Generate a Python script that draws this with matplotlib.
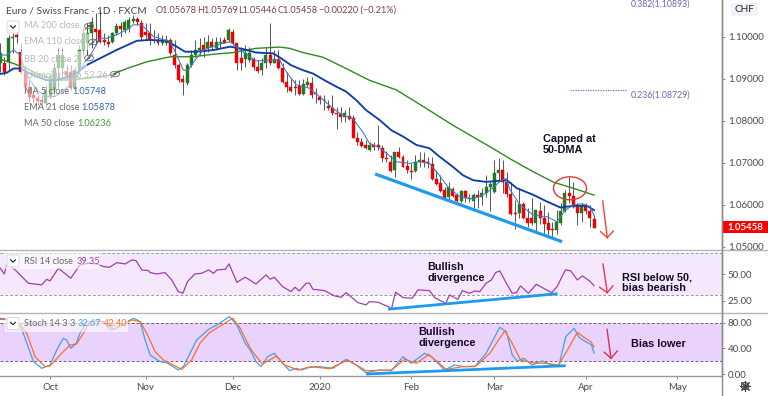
import numpy as np
import matplotlib
matplotlib.use('Agg')
import matplotlib.pyplot as plt
from matplotlib.patches import Ellipse, Rectangle, FancyBboxPatch

plt.rcParams['font.family'] = ['Lato', 'DejaVu Sans']

# daily candles, index 0 = 1 Oct 2019
first_bar = -12
opens = [1.0937,1.0937,1.0941,1.0997,1.1005,1.0965,1.0917,1.0882,1.0862,1.0854,1.0850,1.0842,
         1.0858,1.0874,1.0925,1.0925,1.0917,1.0917,1.0878,1.0921,1.0969,1.0985,1.1009,1.1019,1.1016,1.0994,1.0989,1.0987,1.1009,1.1025,1.1017,1.1019,1.1038,1.1044,1.1033,1.1013,
         1.1009,1.0994,1.0994,1.0985,1.0986,1.0993,1.0957,1.0933,1.0899,1.0890,1.0933,1.0957,1.0969,1.0981,1.0973,1.0989,1.0973,1.0985,1.0993,1.0993,1.1013,1.0985,1.0949,1.0947,1.0945,1.0947,
         1.0929,1.0921,1.0937,1.0957,1.0939,1.0947,1.0925,1.0893,1.0882,1.0880,1.0884,1.0864,1.0886,1.0890,1.0867,1.0858,1.0851,1.0836,1.0832,1.0818,1.0817,1.0809,1.0813,1.0806,1.0760,1.0749,
         1.0743,1.0731,1.0743,1.0743,1.0736,1.0713,1.0702,1.0683,1.0725,1.0715,1.0693,1.0682,1.0682,1.0703,1.0707,1.0703,1.0698,1.0663,1.0653,1.0636,1.0618,1.0637,1.0624,1.0610,1.0634,1.0616,
         1.0610,1.0624,1.0620,1.0628,1.0642,1.0632,1.0677,1.0683,1.0655,1.0626,1.0580,1.0582,1.0603,1.0570,1.0568,1.0556,1.0586,1.0568,1.0558,1.0542,1.0541,1.0556,1.0586,1.0628,1.0622,1.0600,
         1.0582,1.0598,1.0586,1.05678]
highs = [1.0985,1.0953,1.1005,1.1009,1.1009,1.0985,1.0933,1.0897,1.0874,1.0862,1.0862,1.0886,
         1.0909,1.0937,1.0977,1.0977,1.0933,1.0933,1.0929,1.0981,1.1021,1.1033,1.1048,1.1056,1.1064,1.1009,1.1005,1.1013,1.1033,1.1036,1.1040,1.1048,1.1052,1.1048,1.1040,1.1033,
         1.1033,1.1017,1.1009,1.1005,1.1005,1.0997,1.0993,1.0937,1.0909,1.0937,1.0969,1.0993,1.0997,1.1001,1.1005,1.0997,1.1001,1.1001,1.1001,1.1021,1.1019,1.0985,1.0977,1.0981,1.0977,1.0953,
         1.0945,1.0949,1.0977,1.1034,1.0969,1.0969,1.0937,1.0917,1.0901,1.0897,1.0897,1.0901,1.0905,1.0904,1.0878,1.0862,1.0862,1.0850,1.0862,1.0834,1.0834,1.0826,1.0834,1.0814,1.0774,1.0759,
         1.0755,1.0751,1.0751,1.0790,1.0743,1.0728,1.0719,1.0727,1.0739,1.0719,1.0707,1.0699,1.0719,1.0727,1.0727,1.0715,1.0715,1.0683,1.0671,1.0643,1.0655,1.0643,1.0628,1.0636,1.0636,1.0625,
         1.0628,1.0636,1.0640,1.0671,1.0655,1.0707,1.0711,1.0707,1.0679,1.0655,1.0612,1.0640,1.0608,1.0592,1.0616,1.0588,1.0608,1.0600,1.0584,1.0560,1.0588,1.0604,1.0636,1.0666,1.0655,1.0604,
         1.0604,1.0604,1.0600,1.05769]
lows = [1.0917,1.0909,1.0921,1.0961,1.0985,1.0913,1.0870,1.0846,1.0842,1.0838,1.0830,1.0834,
        1.0854,1.0858,1.0878,1.0905,1.0897,1.0874,1.0874,1.0917,1.0957,1.0957,1.0973,1.0985,1.0985,1.0981,1.0977,1.0985,1.1005,1.1001,1.1009,1.1013,1.1033,1.1029,1.0993,1.0993,
        1.0981,1.0985,1.0981,1.0981,1.0981,1.0957,1.0925,1.0893,1.0862,1.0886,1.0929,1.0953,1.0957,1.0953,1.0965,1.0969,1.0969,1.0973,1.0985,1.0989,1.0981,1.0921,1.0921,1.0929,1.0941,1.0921,
        1.0915,1.0909,1.0925,1.0933,1.0937,1.0923,1.0891,1.0870,1.0870,1.0862,1.0862,1.0862,1.0882,1.0854,1.0842,1.0840,1.0826,1.0826,1.0814,1.0782,1.0798,1.0798,1.0802,1.0759,1.0743,1.0739,
        1.0733,1.0729,1.0731,1.0731,1.0703,1.0703,1.0679,1.0667,1.0711,1.0691,1.0675,1.0663,1.0679,1.0691,1.0691,1.0687,1.0659,1.0647,1.0632,1.0616,1.0612,1.0620,1.0604,1.0606,1.0608,1.0606,
        1.0592,1.0594,1.0600,1.0620,1.0586,1.0628,1.0655,1.0628,1.0620,1.0576,1.0544,1.0568,1.0566,1.0548,1.0552,1.0536,1.0554,1.0532,1.0528,1.0524,1.0530,1.0552,1.0584,1.0604,1.0592,1.0552,
        1.0560,1.0578,1.0548,1.05446]
closes = [1.0961,1.0917,1.0997,1.1001,1.0999,1.0917,1.0882,1.0858,1.0854,1.0847,1.0845,1.0874,
          1.0897,1.0925,1.0957,1.0957,1.0909,1.0878,1.0921,1.0969,1.1009,1.1009,1.1036,1.1013,1.0989,1.0989,1.0984,1.1009,1.1025,1.1019,1.1036,1.1040,1.1044,1.1036,1.1001,1.1005,
          1.0993,1.0993,1.0985,1.0994,1.0994,1.0961,1.0933,1.0897,1.0893,1.0933,1.0957,1.0969,1.0973,1.0969,1.0989,1.0977,1.0989,1.0989,1.0986,1.1017,1.0985,1.0937,1.0937,1.0961,1.0961,1.0929,
          1.0919,1.0937,1.0957,1.0937,1.0947,1.0925,1.0893,1.0880,1.0872,1.0879,1.0864,1.0887,1.0892,1.0862,1.0864,1.0851,1.0849,1.0830,1.0818,1.0816,1.0809,1.0820,1.0805,1.0760,1.0749,1.0741,
          1.0735,1.0743,1.0737,1.0739,1.0711,1.0710,1.0682,1.0725,1.0715,1.0691,1.0683,1.0679,1.0703,1.0707,1.0703,1.0699,1.0663,1.0651,1.0634,1.0617,1.0642,1.0622,1.0610,1.0634,1.0616,1.0614,
          1.0624,1.0620,1.0628,1.0642,1.0649,1.0677,1.0683,1.0655,1.0626,1.0578,1.0579,1.0603,1.0568,1.0556,1.0556,1.0588,1.0568,1.0554,1.0541,1.0540,1.0560,1.0586,1.0628,1.0622,1.0596,1.0580,
          1.0598,1.0586,1.0568,1.05458]

ema21_x = [-12,-10.4,-8.8,-7.2,-4,-0.8,1.2,4,6.8,8.8,12,16,20.9,24.1,28.1,30.5,32.5,35.3,39.4,43.4,46.6,49.6,53.7,55.7,58,60.9,63.3,66.1,68.9,71.3,73.7,76.1,79.4,82.2,85,88.2,91.4,93.8,97,99.4,101.9,105,110,112.4,116.4,119.7,122.9,126.1,129.3,131]
ema21_y = [1.0912,1.0915,1.0925,1.0925,1.0909,1.0897,1.0897,1.0904,1.0917,1.0933,1.0949,1.0969,1.0991,1.0993,1.0991,1.0977,1.0965,1.0965,1.0969,1.0977,1.0971,1.0963,1.0961,1.0949,1.0933,1.0921,1.0913,1.0897,1.0882,1.0870,1.0850,1.0826,1.0802,1.0778,1.0763,1.0743,1.0735,1.0715,1.0691,1.0671,1.0659,1.0655,1.0659,1.0640,1.0624,1.0608,1.0594,1.0598,1.0598,1.05878]
ma50_x = [-12,-8.8,-5.6,-2.4,1.6,6.4,14.5,18.5,23.3,29,34.5,39.4,44.2,49.6,55.3,57.7,60.9,65.7,71.3,76.9,83.4,90.6,97,105.9,111.3,116.4,121.3,125.3,131]
ma50_y = [1.0947,1.0937,1.0925,1.0909,1.0897,1.0899,1.0909,1.0925,1.0941,1.0953,1.0953,1.0959,1.0963,1.0973,1.0976,1.0973,1.0963,1.0952,1.0925,1.0897,1.0874,1.0830,1.0790,1.0739,1.0707,1.0679,1.0654,1.0642,1.06236]
ma5_x = [-12,-10.4,-8.8,-7.2,-5.6,-3.2,-0.8,1.2,4,6,8.4,10,12,13.7,16,18.5,20,22.1,24.9,28.9,30.5,32.1,33.3,34.9,36.9,40.2,43.4,45.8,49.6,52.8,55.3,56.9,59.3,62.5,64.9,68.1,70.5,72.9,74.1,75.3,76.9,79.4,81,83.4,86.6,89,91.4,93.4,95.8,98.6,101.9,105,107.1,108.7,109.8,110.8,113.2,116.4,119.7,122.1,124.1,126.1,128.1,130.1,131]
ma5_y = [1.0957,1.0957,1.0969,1.0957,1.0909,1.0874,1.0858,1.0858,1.0878,1.0897,1.0941,1.0961,1.0997,1.0997,1.1005,1.1017,1.1029,1.1029,1.1001,1.0989,1.0957,1.0921,1.0921,1.0945,1.0969,1.0981,1.0989,1.0969,1.0943,1.0945,1.0945,1.0917,1.0886,1.0878,1.0858,1.0830,1.0814,1.0806,1.0790,1.0774,1.0747,1.0736,1.0723,1.0703,1.0699,1.0703,1.0699,1.0675,1.0643,1.0620,1.0614,1.0628,1.0645,1.0659,1.0663,1.0636,1.0600,1.0576,1.0572,1.0560,1.0588,1.0600,1.0603,1.0596,1.05748]

rsi_x = [-12,-11,-10.4,-8.4,-5.2,-2,-0.8,0,2,5,7.2,9.2,11.2,12.9,14.3,16.1,18.1,19.7,20.7,22.1,23.7,24.1,25.7,27.7,29.3,30.9,32,33.1,34.9,36.5,38.2,39.4,40.2,42.2,43.1,45,47,49.6,
         52,53,54,56,58,59,60,61.7,62.5,63.3,66.1,68.5,70.1,71.3,74.1,76.1,76.9,79,81.4,82.2,83.2,85,87.2,88.6,91.4,92.6,95.3,96.2,98.2,99.3,101,102.3,103.5,105,106.3,107.3,108.3,109.9,111.3,
         112.3,113.3,115.2,117.1,119.3,120.8,122.1,124.1,125.4,127,128.2,129.8,131]
rsi_y = [55.7,50.3,60.4,54.1,41.5,39.9,45.3,43.7,55.7,46.2,58.8,60.4,59.8,57.3,56.6,61,59.8,63.6,62.9,54.1,53.5,51.6,50.3,51.6,44.6,33.6,32,43.1,50.3,50.9,54.1,50.9,54.1,54.7,59.8,42.4,47.2,40.8,
         49.4,45.3,47.2,38.3,33.6,37.7,34.2,41.5,41.5,35.8,34.5,29.5,28.2,32.6,23.2,21,24.1,23.5,19.4,16.9,33,27.9,27.3,35.2,34.5,27.9,22.5,30.4,26.3,34.5,32,34.2,33.6,41.5,44.6,51.6,53.2,41.5,32,
         32.6,39,32,40.5,35.8,32.6,38.3,54.1,53.2,44.6,48.4,44,39.35]

stoch_k_x = [-12,-9.6,-7.2,-6,-4,-2,0,1.6,3.2,4,5,6.3,7.2,8.8,11.2,12.9,14.5,16.1,18.5,20.2,21.7,22.9,24.1,26.5,28.1,30.9,32.1,35.3,38.2,40.2,43.2,45,47,48.2,49.6,
             50.8,52.4,54,55.7,57.7,59.3,60.5,62.5,64.9,68.1,71.3,73.7,76.1,79.4,82.2,85,87,90.2,91.8,95,97.4,99.8,102.3,105,108.3,109.9,111.3,
             112.5,114.1,116.1,118.5,120.9,122.5,124.2,126.2,127.4,128.6,130.4,131]
stoch_k_y = [87,85.4,76.6,55.7,19.3,8.9,14.1,37.5,55.7,53.1,40.1,47.9,63.5,81.8,82.8,81.8,68.8,71.4,81.8,87,81.8,53.1,29.7,19.3,17.7,6.3,11.5,53.1,69.8,76.6,89.6,76.6,47.9,37.5,19.3,
             11.5,27.1,32.3,19.3,5.2,8.9,6.3,10.4,11.5,8.9,22.9,14.1,2.1,6.3,5.2,27.1,16.7,32.3,27.1,6.3,14.1,11.5,11.5,32.3,72.9,66.1,29.7,
             20.3,24.5,14.1,20.3,14.1,12.5,58.3,71.4,57.3,52.1,45.3,32.67]
stoch_d_x = [-12,-9.6,-7.2,-5.6,-3.6,-1.2,0,2.8,4.8,6.4,8,9.6,12,13.7,15.3,17.3,19.7,21.7,23.3,25.3,27.3,29.7,31.7,34.1,36.1,38.2,41,44,45.8,48.2,49.6,
             51.2,54.5,56.5,59.7,62.9,67.3,71.7,76.1,82.2,85.4,88.2,91.2,95.4,99.4,102.6,105.9,109.5,111.3,
             113.3,116.1,119.3,122.5,124.6,127,128.6,130.2,131]
stoch_d_y = [85.4,84.4,76.6,63.5,27.1,11.5,12.5,32.3,45.3,46.9,63.5,81.8,82.8,76.6,69.8,76.6,84.4,81.8,63.5,34.9,21.9,14.1,7.3,21.9,47.9,63.5,75,87,71.4,40.1,28.1,
             15.6,28.1,14.1,6.3,11.5,8.3,21.9,5.2,6.3,22.9,16.7,30.7,7.3,11.5,12.5,32.3,67.7,47.9,
             21.9,17.7,16.7,14.1,37.5,65.1,57.3,50.5,42.4]

month_ticks = [0, 23, 44, 65, 87, 107, 129, 151]
month_labels = ['Oct', 'Nov', 'Dec', '2020', 'Feb', 'Mar', 'Apr', 'May']
price_ticks = [1.05, 1.06, 1.07, 1.08, 1.09, 1.10]

trend_price_x, trend_price_y = [78.3, 123.3], [1.06738, 1.05126]
trend_rsi_x, trend_rsi_y = [81.4, 122.2], [16.9, 31.6]
trend_stoch_x, trend_stoch_y = [76.1, 124.2], [0.0, 13.0]
fib_x, fib_y = [125.3, 139.0], [1.08729, 1.08729]

W, H = 768, 396
axis_x = 721.5
tick_size = 7.0
legend_size = 6.6
fig = plt.figure(figsize=(W / 100, H / 100), dpi=100)


def panel(top, bottom):
    return fig.add_axes([0, 1 - bottom / H, axis_x / W, (bottom - top) / H])


ax = panel(0, 249.5)
ax_rsi = panel(250.5, 312.5)
ax_st = panel(313.5, 375.5)

text_col = '#4a4a4a'
for a in (ax, ax_rsi, ax_st):
    a.set_xlim(-12.05, 161.7)
    a.yaxis.tick_right()
    for side in ('top', 'left', 'bottom'):
        a.spines[side].set_visible(False)
    a.spines['right'].set_color('#8a8a8a')
    a.spines['right'].set_linewidth(1.0)
    a.tick_params(axis='y', length=2.5, width=0.7, color='#8a8a8a', labelcolor=text_col, labelsize=tick_size, pad=2)
    a.set_xticks([])

ax.set_ylim(1.0494, 1.10881)
ax.set_yticks(price_ticks)
ax.set_yticklabels([f'{p:.5f}' for p in price_ticks])

# candles
xs = np.arange(first_bar, first_bar + len(opens))
o, h, l, c = map(np.array, (opens, highs, lows, closes))
col = np.where(c >= o, '#23771f', '#f00000')
ax.vlines(xs, l, h, color='#4a4a4a', lw=0.65, zorder=2)
ax.bar(xs, np.abs(c - o), bottom=np.minimum(o, c), width=0.72, color=col, edgecolor=col, lw=0.3, zorder=3)

ax.plot(ma50_x, ma50_y, color='#2e8b22', lw=1.0, zorder=4)
ax.plot(ema21_x, ema21_y, color='#0f3ea3', lw=1.35, zorder=4)
ax.plot(ma5_x, ma5_y, color='#3a78c9', lw=0.75, zorder=4)
ax.plot(trend_price_x, trend_price_y, color='#1e9af0', lw=2.3, solid_capstyle='butt', zorder=5)
ax.plot(fib_x, fib_y, color='#7e6bc4', lw=0.9, ls=(0, (1, 1)), zorder=2)

# RSI
ax_rsi.set_ylim(13.8, 72.5)
ax_rsi.set_yticks([25, 50])
ax_rsi.set_yticklabels(['25.00', '50.00'])
ax_rsi.axhspan(30, 70, color='#f5e7fc', lw=0, zorder=0)
for v in (30, 70):
    ax_rsi.axhline(v, color='#9a9a9a', lw=0.7, ls=(0, (3, 2)), zorder=1)
ax_rsi.plot(rsi_x, rsi_y, color='#a33eb0', lw=0.9, zorder=3)
ax_rsi.plot(trend_rsi_x, trend_rsi_y, color='#1e9af0', lw=2.0, solid_capstyle='butt', zorder=4)

# stochastic
ax_st.set_ylim(-2.3, 94.5)
ax_st.set_yticks([0, 40, 80])
ax_st.set_yticklabels(['0.00', '40.00', '80.00'])
ax_st.axhspan(21, 80, color='#e9d2fb', lw=0, zorder=0)
for v in (21, 80):
    ax_st.axhline(v, color='#6f5f80', lw=0.7, ls=(0, (3, 2)), zorder=1)
ax_st.plot(stoch_k_x, stoch_k_y, color='#42a0f0', lw=0.9, zorder=3)
ax_st.plot(stoch_d_x, stoch_d_y, color='#ff6d2a', lw=0.9, zorder=3)
ax_st.plot(trend_stoch_x, trend_stoch_y, color='#1e9af0', lw=2.0, solid_capstyle='butt', zorder=4)
ax_st.spines['bottom'].set_visible(True)
ax_st.spines['bottom'].set_color('#8a8a8a')
ax_st.set_xticks(month_ticks)
ax_st.set_xticklabels(month_labels)
ax_st.tick_params(axis='x', length=2, width=0.7, color='#8a8a8a', labelcolor=text_col, labelsize=tick_size, pad=3.5)

# overlay in pixels for the chart furniture and notes
ov = fig.add_axes([0, 0, 1, 1], zorder=10)
ov.set_xlim(0, W)
ov.set_ylim(H, 0)
ov.axis('off')
ov.patch.set_alpha(0)

ov.plot([0, W], [249.7, 249.7], color='#b4b4b4', lw=1.0)
ov.plot([0, W], [312.5, 312.5], color='#b4b4b4', lw=1.0)
ov.plot([0, axis_x], [375.7, 375.7], color='#9a9a9a', lw=0.9)
ov.plot([axis_x, axis_x], [0, H], color='#8a8a8a', lw=1.0)


def label(x, y, s, color=text_col, size=legend_size, **kw):
    ov.text(x, y, s, color=color, fontsize=size, va='center', ha=kw.pop('ha', 'left'), **kw)


def chevron_box(x, y):
    ov.add_patch(FancyBboxPatch((x - 6, y - 6), 12, 12, boxstyle='round,pad=0,rounding_size=2',
                                fc='white', ec='#d8d8d8', lw=0.7))
    ov.plot([x - 2.5, x, x + 2.5], [y - 1.2, y + 1.2, y - 1.2], color='#222222', lw=0.8)


def eye(x, y):
    ov.add_patch(Ellipse((x, y), 9, 5.5, fc='none', ec='#666666', lw=0.6))
    ov.add_patch(Ellipse((x, y), 2.4, 2.4, fc='#666666', ec='none'))
    ov.plot([x - 4, x + 4], [y + 3.5, y - 3.5], color='#666666', lw=0.6)


# legend rows over the candles
rows = [('MA 200 close', 26, 66), ('EMA 110 close', 42, 70), ('BB 20 close 2', 59, 66), ('Ichimoku 9 26 52 26', 75, 92)]
for s, y, w in rows:
    ov.add_patch(Rectangle((21, y - 8), w, 16, fc='white', ec='none', alpha=0.62))
    label(24, y, s, color='#b8b8b8')
for s, y, w, val, vx, vc in [('MA 5 close', 91, 84, '1.05748', 72, '#2f62b8'),
                             ('EMA 21 close', 107, 92, '1.05878', 81, '#2f62b8'),
                             ('MA 50 close', 123, 88, '1.06236', 77, '#3c9a34')]:
    ov.add_patch(Rectangle((21, y - 8), w, 16, fc='white', ec='none', alpha=0.55))
    label(24, y, s, color='#666666')
    label(vx, y, val, color=vc)
chevron_box(13, 27)
for x, y in [(89, 26), (93, 42), (89, 58), (115, 74)]:
    eye(x, y)

label(6, 10.5, 'Euro / Swiss Franc · 1D · FXCM', color='#444444', size=7.3)
maroon = '#7d4040'
for x, s in [(156, 'O1.05678'), (197, 'H1.05769'), (238, 'L1.05446'), (278, 'C1.05458'), (319, '−0.00220 (−0.21%)')]:
    label(x, 10.5, s, color=maroon)

ov.add_patch(Rectangle((5, 252), 95, 17, fc='white', ec='none', alpha=0.6))
chevron_box(13, 261)
label(24, 261, 'RSI 14 close', color='#666666')
label(77, 261, '39.35', color='#a33eb0')
ov.add_patch(Rectangle((5, 315), 123, 17, fc='white', ec='none', alpha=0.6))
chevron_box(13, 323.5)
label(24, 323.5, 'Stoch 14 3 3', color='#666666')
label(78, 323.5, '32.67', color='#42a0f0')
label(104, 323.5, '42.40', color='#ff6d2a')

label(631, 4, '0.382(1.10893)', color='#6f63b8', size=6.3)
label(631, 95, '0.236(1.08729)', color='#6f63b8', size=6.3)

# price flag and currency box
ov.add_patch(Rectangle((722, 220.7), 46, 12.6, fc='#ff0000', ec='none'))
label(745, 227, '1.05458', color='white', size=6.9, ha='center', fontweight='bold')
ov.add_patch(FancyBboxPatch((731, 3), 27, 13, boxstyle='round,pad=0,rounding_size=2', fc='#f0f3fa', ec='none'))
label(744.5, 10, 'CHF', color='#222222', size=7.2, ha='center')

# gear
ov.plot([745], [386], marker=(8, 2, 0), ms=8, color='#444444', mew=0.8)
ov.add_patch(Ellipse((745, 386), 7, 7, fc='white', ec='#333333', lw=0.8))

# notes
note = dict(color='#160a26', size=7.8, family=['Liberation Sans', 'DejaVu Sans'], fontweight='bold')
for x, y, s in [(543, 139, 'Capped at'), (543, 150, '50-DMA'),
                (427, 266.7, 'Bullish'), (427, 277.7, 'divergence'),
                (418.7, 331.7, 'Bullish'), (418.7, 342.7, 'divergence'),
                (622.3, 277.7, 'RSI below 50,'), (622.3, 288, 'bias bearish'),
                (630.7, 344, 'Bias lower')]:
    label(x, y, s, **note)

ov.add_patch(Ellipse((570, 188.3), 33, 23, fc='none', ec='#e53935', lw=1.0))
for shaft, head_l, head_r, arrow_col in [(((602.7, 201), (607.3, 237.7)), (600.7, 231.7), (613.3, 231), '#f0443a'),
                                         (((603, 264), (607.3, 292.7)), (599.7, 287.3), (613, 285.7), '#e8394a'),
                                         (((607, 329.3), (611, 358.3)), (604.3, 352.3), (617.3, 351), '#e0304e')]:
    tip = shaft[1]
    ov.plot([shaft[0][0], tip[0]], [shaft[0][1], tip[1]], color=arrow_col, lw=1.0)
    ov.plot([head_l[0], tip[0], head_r[0]], [head_l[1], tip[1], head_r[1]], color=arrow_col, lw=1.0)

fig.savefig('out.png', dpi=100)
plt.close(fig)
